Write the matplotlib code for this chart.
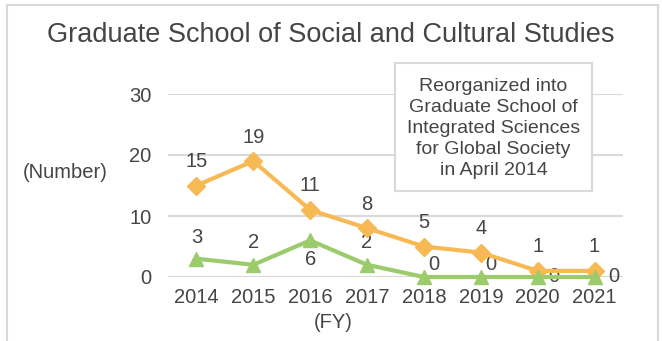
import matplotlib
matplotlib.use("Agg")
import matplotlib.pyplot as plt
from matplotlib.patches import Rectangle
from matplotlib.lines import Line2D

plt.rcParams['font.family'] = ['Liberation Sans', 'DejaVu Sans']

# Data
years = ["2014", "2015", "2016", "2017", "2018", "2019", "2020", "2021"]
applicants = [15, 19, 11, 8, 5, 4, 1, 1]
enrolled = [3, 2, 6, 2, 0, 0, 0, 0]
y_ticks = [0, 10, 20, 30]

TEXT = "#454545"
GRID = "#D9D9D9"
ORANGE = "#F6B954"
GREEN = "#9BCB6B"
FS = 14.5

W, H = 662, 341
fig = plt.figure(figsize=(W / 100, H / 100), dpi=100)


def fx(px):
    return px / W


def fy(py):
    return 1 - py / H


ax = fig.add_axes([fx(168), fy(277), fx(623) - fx(168), fy(94) - fy(277)])
x = list(range(len(years)))

ax.set_xlim(-0.5, len(years) - 0.5)
ax.set_ylim(0, 30)
ax.set_yticks(y_ticks)
ax.set_yticklabels([str(v) for v in y_ticks])
ax.set_xticks(x)
ax.set_xticklabels(years)
ax.tick_params(axis='both', length=0, labelsize=FS, colors=TEXT)
ax.tick_params(axis='y', pad=12)
ax.tick_params(axis='x', pad=8)
for s in ax.spines.values():
    s.set_visible(False)
ax.yaxis.grid(True, color=GRID, linewidth=1.5, zorder=0)
ax.set_axisbelow(True)

ax.plot(x, applicants, color=ORANGE, linewidth=3, marker='D', markersize=9.5,
        zorder=5, clip_on=False)
ax.plot(x, enrolled, color=GREEN, linewidth=3, marker='^', markersize=10.5,
        zorder=5, clip_on=False)

for xi, v in zip(x, applicants):
    ax.annotate(str(v), (xi, v), xytext=(0, 24), textcoords='offset pixels',
                ha='center', va='center', fontsize=FS, color=TEXT)

green_offsets = [(0, 21), (0, 22), (0, -19), (0, 22), (10, 12), (10, 12), (16, 0), (19, 0)]
for xi, v, off in zip(x, enrolled, green_offsets):
    ax.annotate(str(v), (xi, v), xytext=off, textcoords='offset pixels',
                ha='center', va='center', fontsize=FS, color=TEXT)

# Note box
box = Rectangle((fx(395), fy(191)), fx(592) - fx(395), fy(63) - fy(191),
                transform=fig.transFigure, facecolor='white', edgecolor=GRID,
                linewidth=1.5, zorder=3, clip_on=False)
ax.add_patch(box)
ax.text(fx(493.5), fy(128.5),
        "Reorganized into\nGraduate School of\nIntegrated Sciences\nfor Global Society\nin April 2014",
        transform=fig.transFigure, ha='center', va='center', fontsize=14,
        color=TEXT, linespacing=1.32, zorder=4)

# Titles
fig.text(0.5, fy(35), "Graduate School of Social and Cultural Studies",
         ha='center', va='center', fontsize=19.5, color=TEXT)
fig.text(fx(65), fy(172), "(Number)", ha='center', va='center', fontsize=FS, color=TEXT)
fig.text(fx(333), fy(323), "(FY)", ha='center', va='center', fontsize=FS, color=TEXT)

# Chart frame
for xs, ys in [((7, 7), (341, 5)), ((7, 658), (5, 5)), ((658, 658), (5, 341))]:
    fig.add_artist(Line2D([fx(xs[0]), fx(xs[1])], [fy(ys[0]), fy(ys[1])],
                          transform=fig.transFigure, color=GRID, linewidth=1.5))

fig.savefig("out.png", dpi=100)
